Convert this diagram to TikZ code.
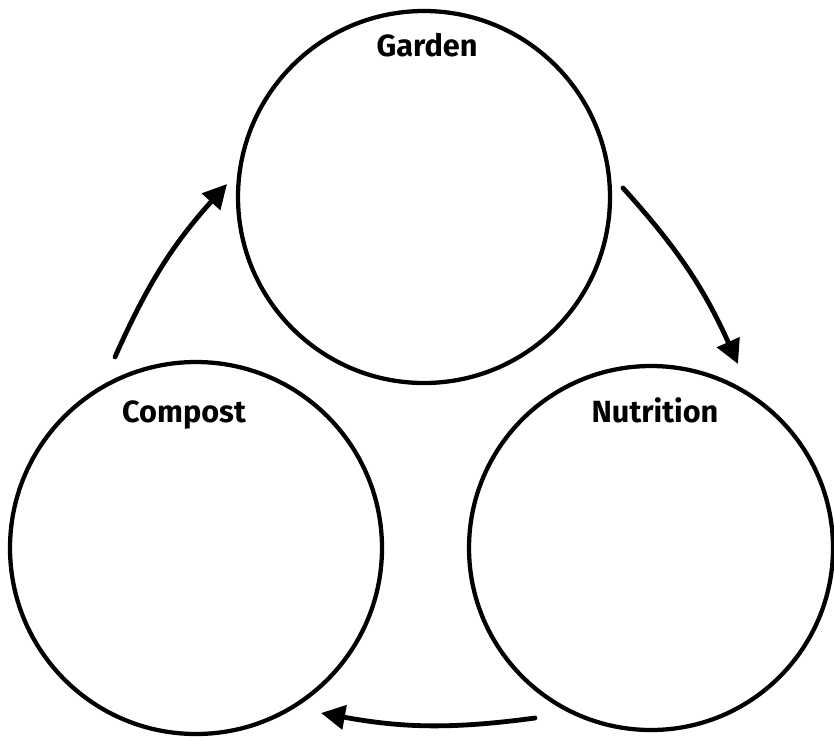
\documentclass[tikz,border=0pt]{standalone}
\usepackage{fontspec}
\setmainfont{Fira Sans}
\usetikzlibrary{arrows.meta}
\begin{document}
\begin{tikzpicture}[x=0.75pt,y=-0.75pt,
  ring/.style={draw=black,line width=3.2pt,circle,inner sep=0pt},
  lbl/.style={font=\bfseries\fontsize{23}{27}\selectfont},
  flow/.style={line width=3.6pt,line cap=round,-{Triangle[length=18pt,width=18pt]},bend left=9}]
\useasboundingbox (0,0) rectangle (834,740);
\node[ring,minimum size=372*0.75pt] (garden) at (424,197) {};
\node[ring,minimum size=372*0.75pt] (compost) at (196,548) {};
\node[ring,minimum size=364*0.75pt] (nutrition) at (651,548) {};
\node[lbl] (tg) at (427,45) {Garden};
\node[lbl] (tc) at (184,415) {Compost};
\node[lbl] (tn) at (655,410) {Nutrition};
\coordinate (a1) at (623,188);
\coordinate (a2) at (738,364);
\coordinate (b1) at (115,357);
\coordinate (b2) at (227,184);
\coordinate (c1) at (535,718);
\coordinate (c2) at (321,713);
\draw[flow] (a1) to (a2);
\draw[flow] (b1) to (b2);
\draw[flow] (c1) to (c2);
\end{tikzpicture}
\end{document}
